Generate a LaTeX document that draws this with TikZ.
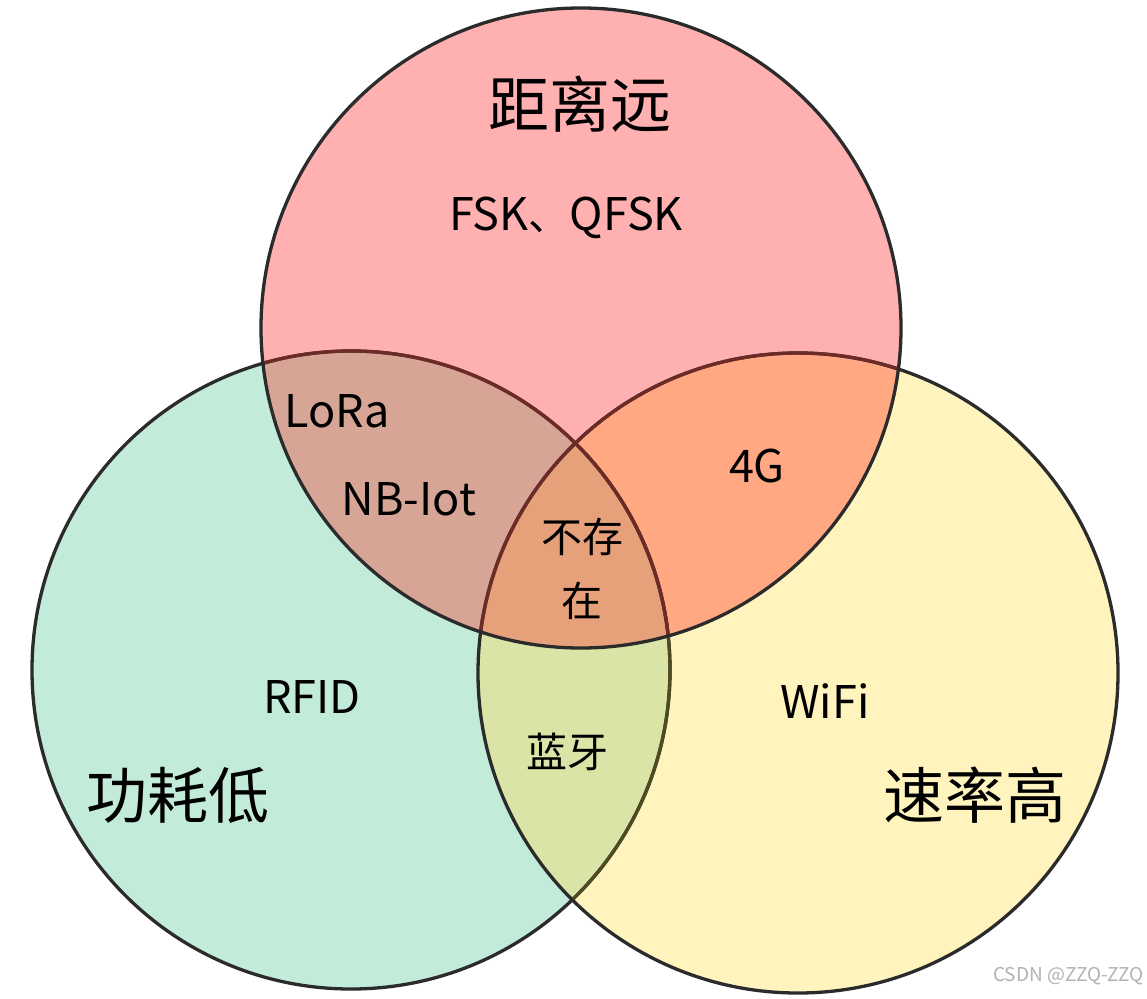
\documentclass[tikz,border=0pt]{standalone}
\usepackage{fontspec}
\setmainfont{Noto Sans CJK SC}
\definecolor{rfill}{HTML}{FFB1B1}
\definecolor{gfill}{HTML}{C3EBDA}
\definecolor{yfill}{HTML}{FFF4BE}
\definecolor{rgfill}{HTML}{D6A596}
\definecolor{ryfill}{HTML}{FFA882}
\definecolor{gyfill}{HTML}{D9E4A6}
\definecolor{cfill}{HTML}{E6A07A}
\definecolor{edge}{HTML}{2B2B2B}
\definecolor{redge}{HTML}{6E2A26}
\definecolor{yedge}{HTML}{4E4A22}
\tikzset{
  bigtxt/.style={font=\fontsize{61}{70}\selectfont, inner sep=0pt},
  midtxt/.style={font=\fontsize{41}{48}\selectfont, inner sep=0pt},
  lattxt/.style={font=\fontsize{45}{52}\selectfont, inner sep=0pt},
  marktxt/.style={font=\fontsize{19}{22}\selectfont, text=black!30, inner sep=0pt, anchor=east},
  ring/.style={line width=3.3pt}
}
\begin{document}
\begin{tikzpicture}[x=1pt,y=-1pt]
\useasboundingbox (0,0) rectangle (1147,998);
\fill[white] (0,0) rectangle (1147,998);
\coordinate (R) at (581,328);
\coordinate (G) at (351,670);
\coordinate (Y) at (798,673);
% base fills
\fill[gfill] (G) circle (319pt);
\fill[yfill] (Y) circle (320pt);
\fill[rfill] (R) circle (320pt);
% overlaps
\begin{scope}
  \clip (G) circle (319pt);
  \fill[rgfill] (R) circle (320pt);
  \fill[gyfill] (Y) circle (320pt);
\end{scope}
\begin{scope}
  \clip (Y) circle (320pt);
  \fill[ryfill] (R) circle (320pt);
\end{scope}
\begin{scope}
  \clip (G) circle (319pt);
  \clip (Y) circle (320pt);
  \fill[cfill] (R) circle (320pt);
\end{scope}
% outlines
\draw[ring, edge] (G) circle (319pt);
\draw[ring, edge] (Y) circle (320pt);
\begin{scope}
  \clip (Y) circle (318.5pt);
  \draw[ring, yedge] (G) circle (319pt);
\end{scope}
\begin{scope}
  \clip (R) circle (318.5pt);
  \draw[ring, redge] (G) circle (319pt);
  \draw[ring, redge] (Y) circle (320pt);
\end{scope}
\draw[ring, edge] (R) circle (320pt);
% labels
\node[bigtxt] (far) at (580,104) {距离远};
\node[bigtxt] (low) at (178,795) {功耗低};
\node[bigtxt] (fast) at (975,795) {速率高};
\node[lattxt] (fsk) at (566,218) {FSK\fontsize{41}{48}\selectfont 、\fontsize{45}{52}\selectfont QFSK};
\node[lattxt] (lora) at (337,411) {LoRa};
\node[lattxt] (nb) at (409,499) {NB-Iot};
\node[lattxt] (fourg) at (757,466) {4G};
\node[midtxt] (none1) at (582,537) {不存};
\node[midtxt] (none2) at (582,601) {在};
\node[lattxt] (rfid) at (312,697) {RFID};
\node[lattxt] (wifi) at (825,701) {WiFi};
\node[midtxt] (bt) at (567,752) {蓝牙};
\node[marktxt] (mark) at (1144,976) {CSDN @ZZQ-ZZQ};
\end{tikzpicture}
\end{document}
